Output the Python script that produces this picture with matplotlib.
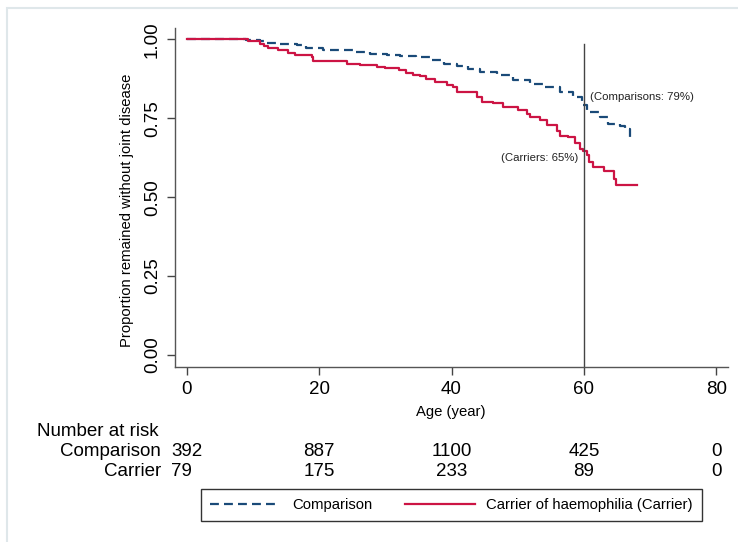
import matplotlib
matplotlib.use('Agg')
import matplotlib.pyplot as plt
from matplotlib import rcParams
from matplotlib.patches import Rectangle
from matplotlib.lines import Line2D
import matplotlib.transforms as mtransforms

rcParams['font.family'] = ['Liberation Sans', 'DejaVu Sans']

# Kaplan-Meier step points (age, proportion)
age_cmp = [0, 9.0, 11.0, 12.0, 14.0, 16.6, 18.0, 20.6, 25.2, 27.7, 30.2, 32.2, 34.7,
           36.8, 38.8, 40.8, 42.5, 44.3, 46.8, 49.3, 51.9, 53.9, 56.4, 58.4, 59.7,
           60.4, 60.9, 62.4, 63.7, 65.5, 66.2, 66.9, 67.5]
surv_cmp = [1.0, 0.997, 0.995, 0.990, 0.985, 0.981, 0.974, 0.967, 0.961, 0.955, 0.952,
            0.948, 0.943, 0.934, 0.922, 0.915, 0.905, 0.897, 0.887, 0.871, 0.858, 0.850,
            0.832, 0.816, 0.792, 0.776, 0.771, 0.755, 0.733, 0.726, 0.715, 0.691, 0.691]

age_car = [0, 9.3, 11.1, 11.6, 12.3, 13.8, 15.3, 16.4, 18.9, 19.1, 24.2, 26.2, 28.7,
           30.0, 32.0, 33.2, 34.2, 35.2, 36.2, 37.5, 39.3, 40.2, 40.8, 43.8, 44.6,
           46.3, 47.8, 50.1, 51.4, 51.9, 53.4, 54.4, 55.9, 56.4, 57.6, 58.7, 59.4,
           59.9, 60.4, 60.8, 61.4, 63.1, 64.5, 64.8, 68.0]
surv_car = [1.0, 0.995, 0.985, 0.979, 0.972, 0.966, 0.958, 0.952, 0.943, 0.931, 0.922,
            0.918, 0.913, 0.908, 0.904, 0.895, 0.887, 0.883, 0.873, 0.866, 0.854, 0.850,
            0.834, 0.818, 0.802, 0.797, 0.787, 0.776, 0.765, 0.755, 0.744, 0.729, 0.711,
            0.694, 0.690, 0.673, 0.652, 0.645, 0.634, 0.612, 0.596, 0.584, 0.559, 0.540,
            0.540]

risk_times = [0, 20, 40, 60, 80]
risk_cmp = [392, 887, 1100, 425, 0]
risk_car = [79, 175, 233, 89, 0]

blue = '#1a4a78'
red = '#cc1444'

fig = plt.figure(figsize=(7.38, 5.42), dpi=100)
W, H = 738.0, 542.0

# light graph-region border (runs off the right and bottom edges)
fig.patches.append(Rectangle((7 / W, -0.05), 740 / W, 1.05 - 8 / H, transform=fig.transFigure,
                             fill=False, edgecolor='#dfe7ea', linewidth=1.5))

ax = fig.add_axes([175 / W, 1 - 367 / H, 553 / W, 339 / H])
ax.plot(age_cmp, surv_cmp, drawstyle='steps-post', color=blue, linewidth=1.6,
        linestyle=(0, (4, 2.3)), label='Comparison')
ax.plot(age_car, surv_car, drawstyle='steps-post', color=red, linewidth=1.6,
        label='Carrier of haemophilia (Carrier)')
ax.axvline(60, ymin=0, ymax=(0.985 + 0.038) / (1.036 + 0.038), color='#444444', linewidth=1)

ax.text(60.9, 0.816, '(Comparisons: 79%)', fontsize=8.2, color='#222222', va='center', ha='left')
ax.text(59.1, 0.624, '(Carriers: 65%)', fontsize=8.2, color='#222222', va='center', ha='right')

ax.set_xlim(-1.77, 81.77)
ax.set_ylim(-0.038, 1.036)
ax.set_xticks([0, 20, 40, 60, 80])
ax.set_yticks([0, 0.25, 0.5, 0.75, 1.0])
ax.set_yticklabels(['0.00', '0.25', '0.50', '0.75', '1.00'], rotation=90, va='center')
ax.tick_params(labelsize=13.5, length=6, width=1, color='#444444', pad=4)
for s in ['top', 'right']:
    ax.spines[s].set_visible(False)
for s in ['left', 'bottom']:
    ax.spines[s].set_color('#555555')
    ax.spines[s].set_linewidth(1)

fig.text(451 / W, 1 - 412 / H, 'Age (year)', fontsize=10.7, ha='center', va='center')
fig.text(127 / W, 1 - 210 / H, 'Proportion remained without joint disease', fontsize=10.7,
         rotation=90, ha='center', va='center')

# number at risk table
tr = mtransforms.blended_transform_factory(ax.transData, fig.transFigure)
fig.text(37 / W, 1 - 432 / H, 'Number at risk', fontsize=13.5, ha='left', va='center')
fig.text(161 / W, 1 - 451 / H, 'Comparison', fontsize=13.5, ha='right', va='center')
fig.text(161 / W, 1 - 471 / H, 'Carrier', fontsize=13.5, ha='right', va='center')
for i, t in enumerate(risk_times):
    for n, yp in [(risk_cmp[i], 451), (risk_car[i], 471)]:
        if i == 0:
            ax.text(-2.3, 1 - yp / H, str(n), transform=tr, fontsize=13.5, ha='left', va='center')
        else:
            ax.text(t, 1 - yp / H, str(n), transform=tr, fontsize=13.5, ha='center', va='center')

handles = [Line2D([], [], color=blue, linewidth=1.6, linestyle=(0, (4, 2.3))),
           Line2D([], [], color=red, linewidth=1.6)]
leg = fig.legend(handles, ['Comparison', 'Carrier of haemophilia (Carrier)'], ncol=2,
                 loc='center', bbox_to_anchor=(451.5 / W, 1 - 505 / H), fontsize=10.7,
                 frameon=True, fancybox=False, edgecolor='black', handlelength=4.7,
                 handletextpad=0.8, columnspacing=2.2, borderpad=0.6)
leg.get_frame().set_linewidth(1)

fig.savefig('out.png', dpi=100)
